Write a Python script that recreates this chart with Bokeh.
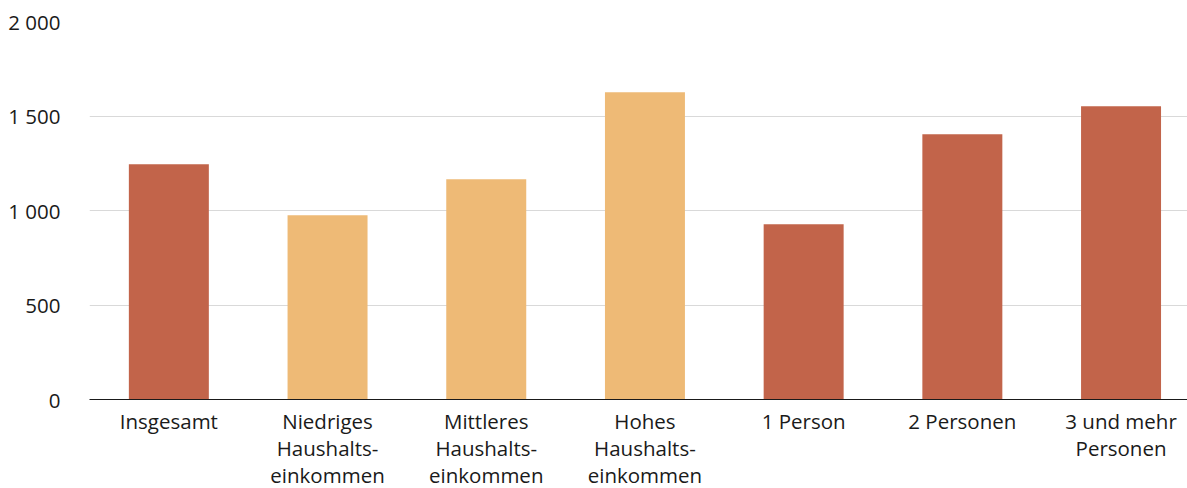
from bokeh.plotting import figure
from bokeh.models import Range1d, FixedTicker, ColumnDataSource
from bokeh.embed import file_html
from bokeh.resources import INLINE

categories = ["Insgesamt", "Niedriges\nHaushalts-\neinkommen", "Mittleres\nHaushalts-\neinkommen",
              "Hohes\nHaushalts-\neinkommen", "1 Person", "2 Personen", "3 und mehr\nPersonen"]
values = [1245, 975, 1166, 1626, 927, 1404, 1552]
groups = ["total", "income", "income", "income", "size", "size", "size"]
group_colors = {"total": "#C2644A", "income": "#EEBA76", "size": "#C2644A"}
y_ticks = [0, 500, 1000, 1500, 2000]
y_tick_labels = ["0", "500", "1 000", "1 500", "2 000"]

xs = [i + 0.5 for i in range(len(categories))]
colors = [group_colors[g] for g in groups]
src = ColumnDataSource(dict(x=xs, top=values, color=colors))

left = 89
frame_w = 1187 - left
unit = 158.7
p = figure(frame_width=frame_w, frame_height=378, output_backend="svg", toolbar_location=None,
           x_range=Range1d(0, frame_w / unit), y_range=Range1d(0, 2000),
           min_border_left=left, min_border_right=0, min_border_top=21, min_border_bottom=0)
p.outline_line_color = None
p.background_fill_color = "white"

p.vbar(x="x", top="top", bottom=0, width=0.504, color="color", source=src, line_color=None)

font = "Open Sans"
p.xaxis.ticker = FixedTicker(ticks=xs)
p.xaxis.major_label_overrides = {x: c for x, c in zip(xs, categories)}
p.xaxis.major_tick_line_color = None
p.xaxis.minor_tick_line_color = None
p.xaxis.axis_line_color = "#1a1a1a"
p.xaxis.axis_line_width = 1
p.xaxis.major_label_text_font = font
p.xaxis.major_label_text_font_size = "20.5px"
p.xaxis.major_label_text_color = "#1a1a1a"
p.xaxis.major_label_standoff = 1
p.xaxis.major_label_text_line_height = 0.97
p.xgrid.grid_line_color = None

p.yaxis.ticker = FixedTicker(ticks=y_ticks)
p.yaxis.major_label_overrides = {t: l for t, l in zip(y_ticks, y_tick_labels)}
p.yaxis.axis_line_color = None
p.yaxis.major_tick_line_color = None
p.yaxis.minor_tick_line_color = None
p.yaxis.major_label_text_font = font
p.yaxis.major_label_text_font_size = "20.5px"
p.yaxis.major_label_text_color = "#1a1a1a"
p.yaxis.major_label_standoff = 23
p.ygrid.grid_line_color = "#d9d9d9"
p.ygrid.grid_line_width = 1

open("out.html", "w").write(file_html(p, INLINE))
